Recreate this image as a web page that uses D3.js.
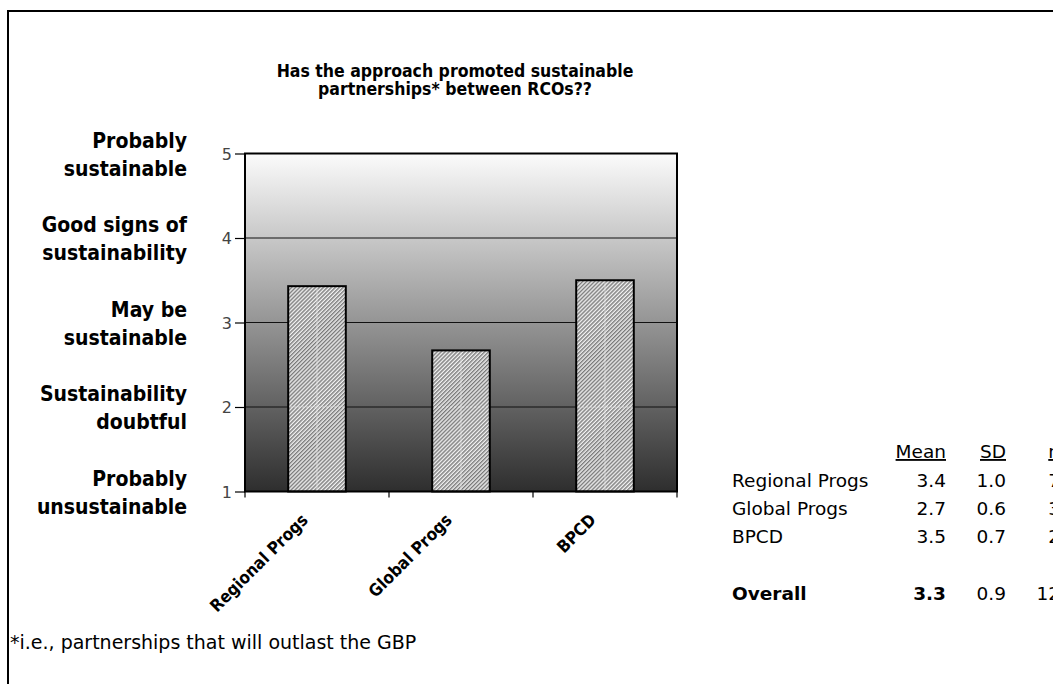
<!DOCTYPE html>
<html>
<head>
<meta charset="utf-8">
<script src="https://cdn.jsdelivr.net/npm/d3@7/dist/d3.min.js"></script>
<style>
  html, body { margin: 0; padding: 0; background: #fff; overflow: hidden; }
  svg { display: block; }
  .reg { font-family: 'DejaVu Sans', Verdana, sans-serif; }
  .bold { font-family: 'DejaVu Sans Condensed', 'DejaVu Sans', sans-serif; font-weight: bold; font-stretch: condensed; }
</style>
</head>
<body>
<svg id="chart" width="1053" height="684"></svg>
<script>
// Programme groups and their mean ratings (1–5 scale)
const categories = ["Regional Progs", "Global Progs", "BPCD"];
const means = [3.43, 2.67, 3.5];
const sds = [1.0, 0.6, 0.7];
const counts = [7, 3, 2];
const overallSD = 0.9;

// Rating scale
const yTicks = [1, 2, 3, 4, 5];
const scaleLabels = [
  ["Probably", "unsustainable"],
  ["Sustainability", "doubtful"],
  ["May be", "sustainable"],
  ["Good signs of", "sustainability"],
  ["Probably", "sustainable"]
];

const titleLines = ["Has the approach promoted sustainable", "partnerships* between RCOs??"];
const footnote = "*i.e., partnerships that will outlast the GBP";
const tableHeaders = ["Mean", "SD", "n"];

const svg = d3.select("#chart");
const fmt = d3.format(".1f");

// Outer frame (runs off the right and bottom of the view)
svg.append("rect")
  .attr("x", 8).attr("y", 11).attr("width", 1200).attr("height", 800)
  .attr("fill", "none").attr("stroke", "#000").attr("stroke-width", 2);

const plot = { left: 245, right: 677, top: 153.5, bottom: 491.5 };

const y = d3.scaleLinear().domain([1, 5]).range([plot.bottom, plot.top]);
const x = d3.scaleBand().domain(categories)
  .range([plot.left, plot.right])
  .paddingInner(0.6).paddingOuter(0.3);

const defs = svg.append("defs");
const grad = defs.append("linearGradient")
  .attr("id", "bgGrad").attr("x1", 0).attr("y1", 0).attr("x2", 0).attr("y2", 1);
grad.append("stop").attr("offset", "0%").attr("stop-color", "#fbfbfb");
grad.append("stop").attr("offset", "100%").attr("stop-color", "#2e2e2e");

const hatch = defs.append("pattern")
  .attr("id", "hatch").attr("patternUnits", "userSpaceOnUse")
  .attr("width", 2.8).attr("height", 2.8)
  .attr("patternTransform", "rotate(45)");
hatch.append("rect").attr("width", 2.8).attr("height", 2.8).attr("fill", "#f2f2f2");
hatch.append("line").attr("x1", 0.7).attr("y1", 0).attr("x2", 0.7).attr("y2", 2.8)
  .attr("stroke", "#7a7a7a").attr("stroke-width", 1.4);

// Plot background
svg.append("rect")
  .attr("x", plot.left).attr("y", plot.top)
  .attr("width", plot.right - plot.left).attr("height", plot.bottom - plot.top)
  .attr("fill", "url(#bgGrad)");

// Gridlines
svg.append("g").selectAll("line")
  .data(yTicks.filter(t => t > 1 && t < 5))
  .join("line")
  .attr("x1", plot.left).attr("x2", plot.right)
  .attr("y1", d => y(d)).attr("y2", d => y(d))
  .attr("stroke", "#111").attr("stroke-width", 1.2);

// Bars
const bars = svg.append("g");
bars.selectAll("rect")
  .data(categories)
  .join("rect")
  .attr("x", d => x(d))
  .attr("y", (d, i) => y(means[i]))
  .attr("width", x.bandwidth())
  .attr("height", (d, i) => y(1) - y(means[i]))
  .attr("fill", "url(#hatch)")
  .attr("stroke", "#000").attr("stroke-width", 2);

// faint centre seam and grid ghost inside each bar
bars.selectAll("line.seam")
  .data(categories)
  .join("line").attr("class", "seam")
  .attr("x1", d => x(d) + x.bandwidth() / 2).attr("x2", d => x(d) + x.bandwidth() / 2)
  .attr("y1", (d, i) => y(means[i]) + 2).attr("y2", y(1) - 1)
  .attr("stroke", "#e6e6e6").attr("stroke-width", 1).attr("opacity", 0.7);
bars.selectAll("line.ghost")
  .data(categories)
  .join("line").attr("class", "ghost")
  .attr("x1", d => x(d) + 2).attr("x2", d => x(d) + x.bandwidth() - 2)
  .attr("y1", y(2)).attr("y2", y(2))
  .attr("stroke", "#f4f4f4").attr("stroke-width", 1)
  .attr("stroke-dasharray", "2,2").attr("opacity", 0.7);

// Plot border
svg.append("rect")
  .attr("x", plot.left).attr("y", plot.top)
  .attr("width", plot.right - plot.left).attr("height", plot.bottom - plot.top)
  .attr("fill", "none").attr("stroke", "#000").attr("stroke-width", 2);

// Y axis
const yAxis = svg.append("g")
  .attr("transform", `translate(${plot.left},0)`)
  .call(d3.axisLeft(y).tickValues(yTicks).tickFormat(d3.format("d")).tickSize(10).tickPadding(3));
yAxis.select(".domain").remove();
yAxis.selectAll(".tick line").attr("stroke", "#000").attr("stroke-width", 1.2);
yAxis.selectAll(".tick text")
  .attr("class", "reg").attr("font-size", 16).attr("fill", "#444").attr("dy", "0.35em");

// X axis category boundary ticks
const xBoundary = d3.scaleLinear().domain([0, categories.length]).range([plot.left, plot.right]);
svg.append("g").selectAll("line")
  .data(d3.range(categories.length + 1))
  .join("line")
  .attr("x1", d => xBoundary(d)).attr("x2", d => xBoundary(d))
  .attr("y1", plot.bottom).attr("y2", plot.bottom + 6)
  .attr("stroke", "#000").attr("stroke-width", 1.2);

// Rotated category labels
svg.append("g").selectAll("text")
  .data(categories)
  .join("text")
  .attr("class", "bold")
  .attr("font-size", 17)
  .attr("text-anchor", "end")
  .attr("transform", d => `translate(${x(d) + x.bandwidth() / 2 - 8},521) rotate(-45)`)
  .text(d => d);

// Rating-scale labels
const sl = svg.append("g");
yTicks.forEach((t, i) => {
  const txt = sl.append("text")
    .attr("class", "bold").attr("font-size", 21)
    .attr("text-anchor", "end").attr("fill", "#000");
  txt.append("tspan").attr("x", 187).attr("y", y(t) - 6).text(scaleLabels[i][0]);
  txt.append("tspan").attr("x", 187).attr("y", y(t) + 22).text(scaleLabels[i][1]);
});

// Title
const title = svg.append("text")
  .attr("class", "bold").attr("font-size", 17.5).attr("text-anchor", "middle");
titleLines.forEach((l, i) => {
  title.append("tspan").attr("x", 455).attr("y", 77 + i * 18).text(l);
});

// Footnote
svg.append("text")
  .attr("class", "reg").attr("font-size", 19)
  .attr("x", 10).attr("y", 649)
  .text(footnote);

// Summary table
const colRight = [946, 1006, 1060];
const labelX = 732;
const rowY = [487, 515, 543];
const tbl = svg.append("g").attr("class", "reg").attr("font-size", 18.5);

tbl.selectAll("text.hdr")
  .data(tableHeaders)
  .join("text").attr("class", "hdr")
  .attr("x", (d, i) => colRight[i]).attr("y", 458)
  .attr("text-anchor", "end")
  .attr("text-decoration", "underline")
  .text(d => d);

categories.forEach((c, i) => {
  tbl.append("text").attr("x", labelX).attr("y", rowY[i]).text(c);
  tbl.append("text").attr("x", colRight[0]).attr("y", rowY[i]).attr("text-anchor", "end").text(fmt(means[i]));
  tbl.append("text").attr("x", colRight[1]).attr("y", rowY[i]).attr("text-anchor", "end").text(fmt(sds[i]));
  tbl.append("text").attr("x", colRight[2]).attr("y", rowY[i]).attr("text-anchor", "end").text(counts[i]);
});

const totalN = d3.sum(counts);
const overallMean = d3.sum(means.map((m, i) => m * counts[i])) / totalN;
const oy = 600;
tbl.append("text").attr("x", labelX).attr("y", oy)
  .attr("font-weight", "bold").text("Overall");
tbl.append("text").attr("x", colRight[0]).attr("y", oy).attr("text-anchor", "end")
  .attr("font-weight", "bold").text(fmt(overallMean));
tbl.append("text").attr("x", colRight[1]).attr("y", oy).attr("text-anchor", "end").text(fmt(overallSD));
tbl.append("text").attr("x", colRight[2]).attr("y", oy).attr("text-anchor", "end").text(totalN);
</script>
</body>
</html>
